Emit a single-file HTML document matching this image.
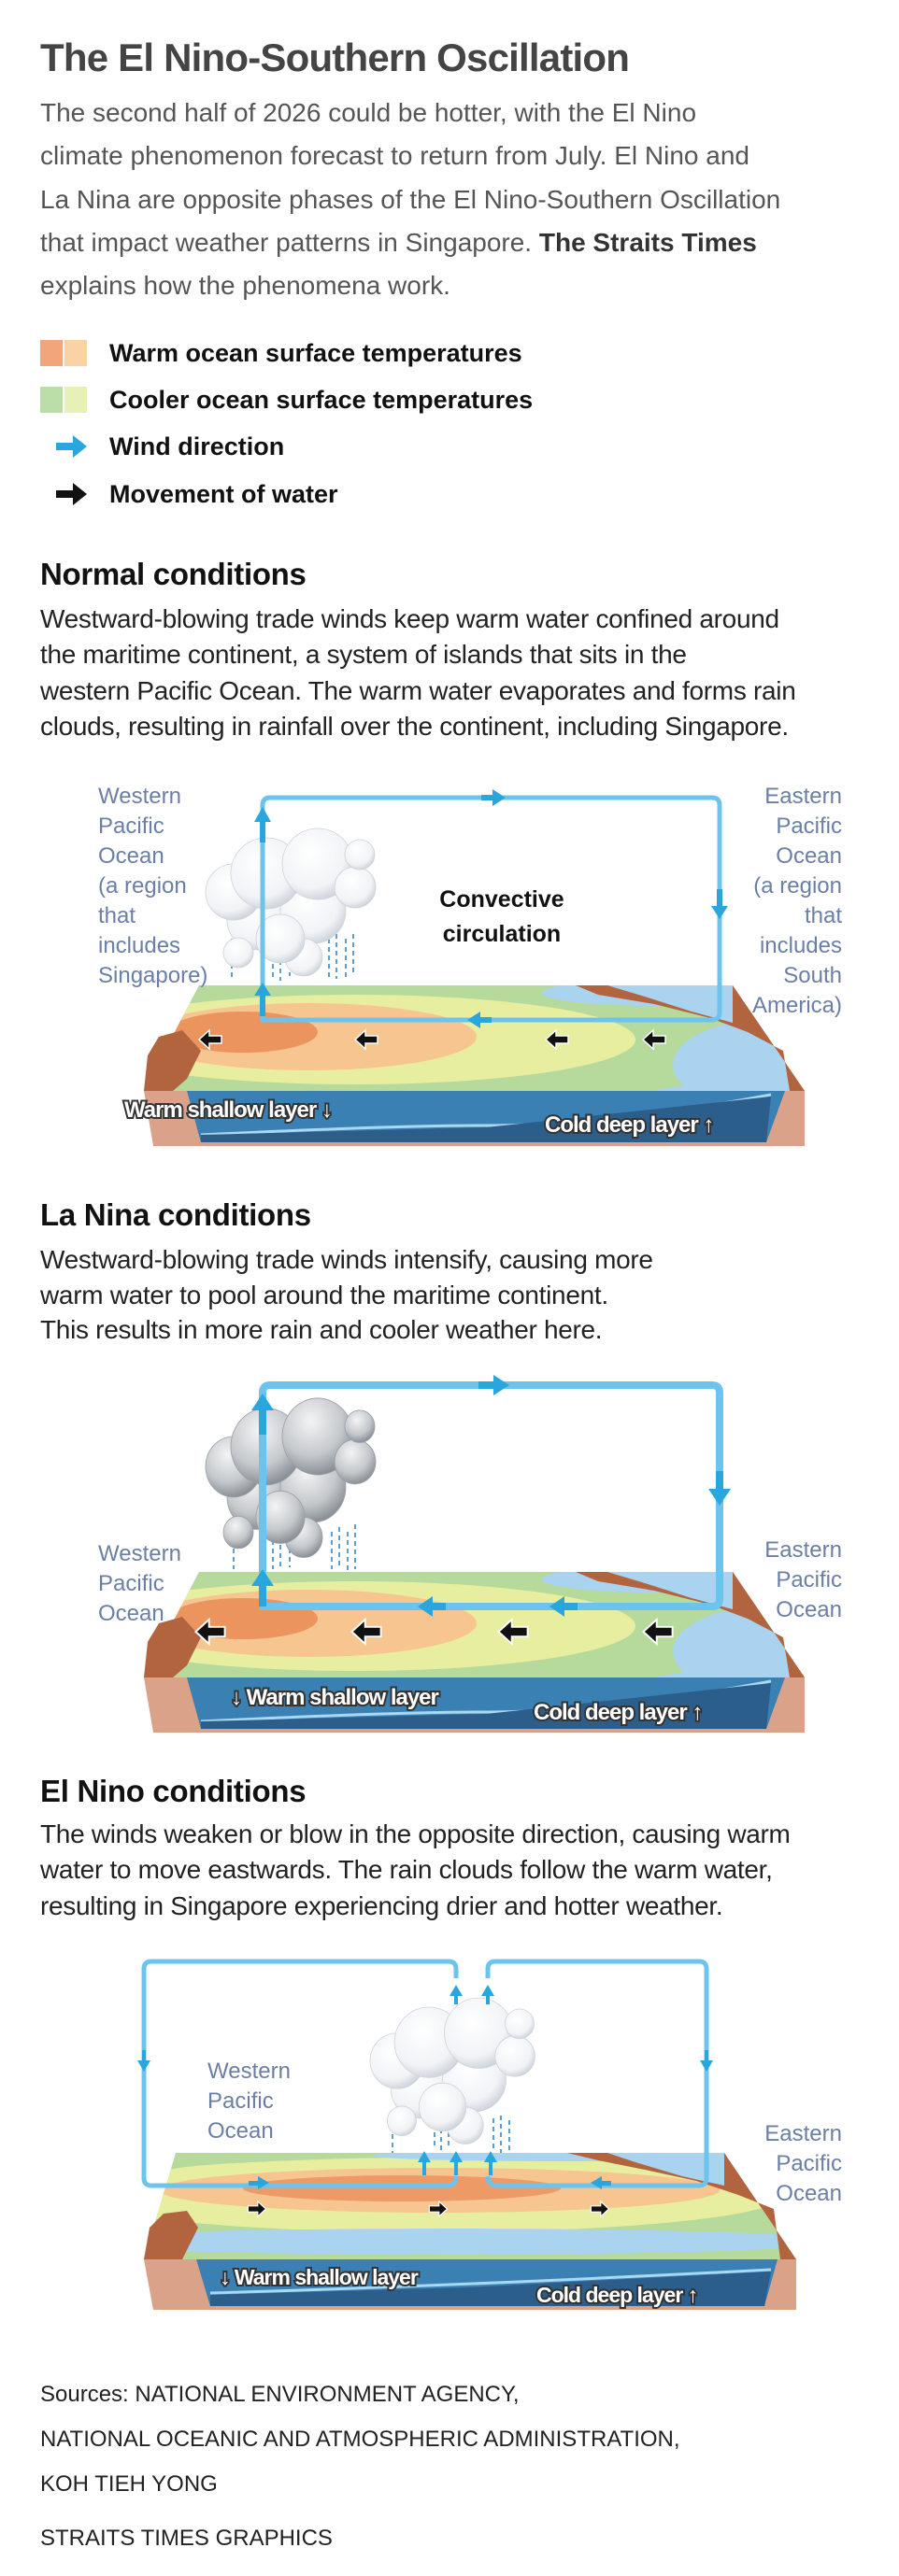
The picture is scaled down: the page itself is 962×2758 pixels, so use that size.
<!DOCTYPE html>
<html><head><meta charset="utf-8">
<style>
html,body{margin:0;padding:0;background:#fff;}
body{width:962px;height:2758px;position:relative;overflow:hidden;font-family:"Liberation Sans",sans-serif;}
.t{position:absolute;left:43px;white-space:nowrap;}
.title{top:37px;font-size:42px;line-height:50px;font-weight:bold;color:#444;letter-spacing:-0.8px;}
.intro{top:98px;font-size:28px;line-height:46.3px;color:#555;}
.leg{font-size:27px;line-height:40px;font-weight:bold;color:#111;left:117px;}
.h2{font-size:33px;line-height:44px;font-weight:bold;color:#111;letter-spacing:-0.3px;}
.body{font-size:28px;line-height:38.3px;color:#222;letter-spacing:-0.3px;}
.lbl{position:absolute;font-size:24px;line-height:32px;color:#6b7fa6;white-space:nowrap;}
.src{font-size:24px;line-height:48px;color:#222;}
svg{position:absolute;left:0;top:0;}
</style></head><body>
<svg width="962" height="2758" viewBox="0 0 962 2758">
<defs>
<radialGradient id="cw" cx="0.4" cy="0.35" r="0.7"><stop offset="0" stop-color="#ffffff"/><stop offset="0.7" stop-color="#f1f3f6"/><stop offset="1" stop-color="#c9cfd7"/></radialGradient>
<radialGradient id="cg" cx="0.4" cy="0.3" r="0.75"><stop offset="0" stop-color="#f4f4f4"/><stop offset="0.6" stop-color="#c4c8cc"/><stop offset="1" stop-color="#80868d"/></radialGradient>
<clipPath id="topN"><polygon points="213,0 784,0 861,113 154,113"/></clipPath>
<clipPath id="topE"><polygon points="188,0 775,0 852,114 154,114"/></clipPath>
<g id="oceanN">
 <g clip-path="url(#topN)">
  <rect x="150" y="0" width="720" height="120" fill="#a9d3ee"/>
  <ellipse cx="430" cy="55" rx="420" ry="75" fill="#b6d99c"/>
  <ellipse cx="380" cy="58" rx="300" ry="48" fill="#e8ee9f"/>
  <ellipse cx="330" cy="55" rx="180" ry="36" fill="#f7c590"/>
  <ellipse cx="260" cy="50" rx="80" ry="22" fill="#ec945d"/>
  <ellipse cx="830" cy="85" rx="110" ry="50" fill="#a9d3ee"/>
  <ellipse cx="700" cy="8" rx="120" ry="14" fill="#a9d3ee"/>
 </g>
 <polygon points="154,113 158,75 170,55 195,48 215,70 200,100 185,113" fill="#b2643f"/>
 <polygon points="616,0 784,0 861,113 845,113 838,70 800,50 760,35 700,20 640,10" fill="#b2643f"/>
 <polygon points="650,0 784,0 784,40 740,28 690,12" fill="#a9d3ee"/>
 <polygon points="154,113 861,113 861,172 164,172" fill="#dba28a"/>
 <polygon points="200,113 840,113 820,168 215,168" fill="#3a80b2"/>
 <path d="M215,160 Q420,150 520,150 Q650,150 825,117" stroke="#a8d8f2" stroke-width="3" fill="none"/>
 <polygon points="215,160 520,152 825,119 820,168 215,168" fill="#2b5e8a"/>
</g>
<path id="bl" d="M-12,0 L-1,-10 L-1,-4 L12,-4 L12,4 L-1,4 L-1,10 Z" fill="#111" stroke="#fff" stroke-width="1.5"/>
<g id="cloudN">
 <circle cx="275" cy="985" r="32"/><circle cx="335" cy="975" r="35"/><circle cx="255" cy="1020" r="16"/>
 <circle cx="325" cy="1025" r="20"/><circle cx="300" cy="1005" r="26"/>
 <circle cx="250" cy="955" r="30"/><circle cx="285" cy="935" r="38"/><circle cx="340" cy="925" r="38"/>
 <circle cx="380" cy="950" r="22"/><circle cx="385" cy="915" r="16"/>
</g>
</defs>

<!-- legend -->
<rect x="43" y="364" width="24" height="28" fill="#f2a57a"/><rect x="69" y="364" width="24" height="28" fill="#f9d3a5"/>
<rect x="43" y="414" width="24" height="28" fill="#b9dea8"/><rect x="69" y="414" width="24" height="28" fill="#e6f0b7"/>
<path d="M60,474 H78 V466 L93,478 L78,490 V482 H60 Z" fill="#2aa6df"/>
<path d="M60,525 H78 V517 L93,529 L78,541 V533 H60 Z" fill="#111"/>

<!-- NORMAL -->
<use href="#oceanN" transform="translate(0,1055)"/>
<g fill="none" stroke="#2a7fc0" stroke-width="1.5" stroke-dasharray="5,4">
 <path d="M248,1005 V1050 M292,1005 V1048 M300,1010 V1050 M310,1005 V1045 M352,1005 V1050 M360,1000 V1048 M370,1005 V1050 M378,1000 V1045"/>
</g>
<use href="#cloudN" fill="url(#cw)" stroke="#cdd3da" stroke-width="0.8"/>
<path d="M281,1092 V862 Q281,854 289,854 H762 Q770,854 770,862 V1084 Q770,1092 762,1092 Z" fill="none" stroke="#6cc4ee" stroke-width="5"/>
<g fill="#2aa6df">
 <polygon points="281,864 272,880 290,880"/><rect x="278" y="880" width="6" height="22"/>
 <polygon points="541,854 527,845 527,863"/><rect x="515" y="851" width="12" height="6"/>
 <polygon points="770,984 761,970 779,970"/><rect x="767" y="952" width="6" height="18"/>
 <polygon points="500,1092 514,1083 514,1101"/><rect x="514" y="1089" width="12" height="6"/>
 <polygon points="281,1052 272,1066 290,1066"/><rect x="278" y="1066" width="6" height="22"/>
</g>
<use href="#bl" x="225" y="1113"/><use href="#bl" x="392" y="1113"/><use href="#bl" x="596" y="1113"/><use href="#bl" x="700" y="1113"/>
<g font-family="Liberation Sans" font-weight="bold" font-size="24" fill="#fff" stroke="#333" stroke-width="4" paint-order="stroke" letter-spacing="-1">
 <text x="133" y="1196">Warm shallow layer ↓</text>
 <text x="583" y="1212">Cold deep layer ↑</text>
</g>
<g font-family="Liberation Sans" font-weight="bold" font-size="25" fill="#111" text-anchor="middle">
 <text x="537" y="971">Convective</text><text x="537" y="1008">circulation</text>
</g>

<!-- LA NINA -->
<use href="#oceanN" transform="translate(0,1683)"/>
<g fill="none" stroke="#2a7fc0" stroke-width="1.5" stroke-dasharray="5,4">
 <path d="M250,1640 V1680 M292,1640 V1680 M300,1645 V1680 M310,1640 V1678 M355,1640 V1680 M363,1635 V1680 M372,1640 V1682 M380,1632 V1680"/>
</g>
<use href="#cloudN" transform="translate(0,620) scale(1,1.08) translate(0,-75)" fill="url(#cg)" stroke="#9aa0a8" stroke-width="0.8"/>
<path d="M281,1720 V1491 Q281,1483 289,1483 H762 Q770,1483 770,1491 V1712 Q770,1720 762,1720 Z" fill="none" stroke="#6cc4ee" stroke-width="8"/>
<g fill="#2aa6df">
 <polygon points="281,1492 269,1510 293,1510"/><rect x="277" y="1510" width="8" height="26"/>
 <polygon points="545,1483 528,1472 528,1494"/><rect x="512" y="1479" width="16" height="8"/>
 <polygon points="770,1612 758,1594 782,1594"/><rect x="766" y="1575" width="8" height="19"/>
 <polygon points="447,1720 463,1709 463,1731"/><rect x="463" y="1716" width="14" height="8"/>
 <polygon points="588,1720 604,1709 604,1731"/><rect x="604" y="1716" width="14" height="8"/>
 <polygon points="281,1680 269,1698 293,1698"/><rect x="277" y="1698" width="8" height="22"/>
</g>
<use href="#bl" transform="translate(225,1747) scale(1.3)"/><use href="#bl" transform="translate(392,1747) scale(1.3)"/><use href="#bl" transform="translate(549,1747) scale(1.3)"/><use href="#bl" transform="translate(704,1747) scale(1.3)"/>
<g font-family="Liberation Sans" font-weight="bold" font-size="24" fill="#fff" stroke="#333" stroke-width="4" paint-order="stroke" letter-spacing="-1">
 <text x="247" y="1825">↓ Warm shallow layer</text>
 <text x="571" y="1841">Cold deep layer ↑</text>
</g>

<!-- EL NINO -->
<g transform="translate(0,2305)">
 <g clip-path="url(#topE)">
  <rect x="150" y="0" width="720" height="120" fill="#b6d99c"/>
  <ellipse cx="480" cy="20" rx="300" ry="14" fill="#e8ee9f"/>
  <ellipse cx="460" cy="45" rx="380" ry="40" fill="#e8ee9f"/>
  <ellipse cx="470" cy="40" rx="300" ry="24" fill="#f7c590"/>
  <ellipse cx="430" cy="38" rx="170" ry="14" fill="#ee9a66"/>
  <ellipse cx="480" cy="95" rx="420" ry="14" fill="#a9d3ee"/>
  <ellipse cx="600" cy="3" rx="200" ry="6" fill="#a9d3ee"/>
 </g>
 <polygon points="154,114 160,80 175,65 200,62 212,80 195,114" fill="#b2643f"/>
 <polygon points="607,0 775,0 852,114 835,114 828,60 790,45 745,30 690,18 640,8" fill="#b2643f"/>
 <polygon points="650,0 775,0 775,35 730,25 680,10" fill="#a9d3ee"/>
 <polygon points="154,114 852,114 852,168 164,168" fill="#dba28a"/>
 <polygon points="210,114 832,114 818,164 225,164" fill="#3a80b2"/>
 <path d="M225,150 Q500,142 825,125" stroke="#a8d8f2" stroke-width="3" fill="none"/>
 <polygon points="225,152 500,144 825,127 818,164 225,164" fill="#2b5e8a"/>
</g>
<g fill="none" stroke="#2a7fc0" stroke-width="1.5" stroke-dasharray="5,4">
 <path d="M420,2285 V2305 M465,2265 V2300 M472,2270 V2305 M480,2265 V2300 M528,2268 V2300 M536,2265 V2305 M545,2270 V2305"/>
</g>
<use href="#cloudN" transform="translate(395,2149) scale(0.97,0.99) translate(-219,-897)" fill="url(#cw)" stroke="#cdd3da" stroke-width="0.8"/>
<g fill="none" stroke="#6cc4ee" stroke-width="5">
 <path d="M488,2330 Q488,2340 478,2340 H162 Q154,2340 154,2332 V2108 Q154,2100 162,2100 H480 Q488,2100 488,2108 V2118"/>
 <path d="M522,2330 Q522,2340 532,2340 H748 Q756,2340 756,2332 V2108 Q756,2100 748,2100 H530 Q522,2100 522,2108 V2118"/>
</g>
<g fill="#2aa6df">
 <polygon points="488,2125 481,2137 495,2137"/><rect x="486" y="2137" width="4" height="9"/>
 <polygon points="522,2125 515,2137 529,2137"/><rect x="520" y="2137" width="4" height="9"/>
 <polygon points="154,2218 147,2206 161,2206"/><rect x="152" y="2195" width="4" height="11"/>
 <polygon points="756,2218 749,2206 763,2206"/><rect x="754" y="2195" width="4" height="11"/>
 <polygon points="288,2337 276,2330 276,2344"/><rect x="266" y="2335" width="10" height="5"/>
 <polygon points="632,2337 644,2330 644,2344"/><rect x="644" y="2335" width="10" height="5"/>
 <polygon points="454,2303 447,2315 461,2315"/><rect x="452" y="2315" width="4" height="14"/>
 <polygon points="488,2303 481,2315 495,2315"/><rect x="486" y="2315" width="4" height="14"/>
 <polygon points="525,2303 518,2315 532,2315"/><rect x="523" y="2315" width="4" height="14"/>
</g>
<use href="#bl" transform="translate(275,2365) scale(-0.8,0.8)"/><use href="#bl" transform="translate(469,2365) scale(-0.8,0.8)"/><use href="#bl" transform="translate(642,2365) scale(-0.8,0.8)"/>
<g font-family="Liberation Sans" font-weight="bold" font-size="23" fill="#fff" stroke="#333" stroke-width="4" paint-order="stroke" letter-spacing="-1">
 <text x="235" y="2446">↓ Warm shallow layer</text>
 <text x="574" y="2465">Cold deep layer ↑</text>
</g>
</svg>

<div class="t title">The El Nino-Southern Oscillation</div>
<div class="t intro">The second half of 2026 could be hotter, with the El Nino<br>climate phenomenon forecast to return from July. El Nino and<br>La Nina are opposite phases of the El Nino-Southern Oscillation<br>that impact weather patterns in Singapore. <b style="color:#333">The Straits Times</b><br>explains how the phenomena work.</div>
<div class="t leg" style="top:358px">Warm ocean surface temperatures</div>
<div class="t leg" style="top:408px">Cooler ocean surface temperatures</div>
<div class="t leg" style="top:458px">Wind direction</div>
<div class="t leg" style="top:509px">Movement of water</div>

<div class="t h2" style="top:593px">Normal conditions</div>
<div class="t body" style="top:644px">Westward-blowing trade winds keep warm water confined around<br>the maritime continent, a system of islands that sits in the<br>western Pacific Ocean. The warm water evaporates and forms rain<br>clouds, resulting in rainfall over the continent, including Singapore.</div>
<div class="lbl" style="left:105px;top:837px">Western<br>Pacific<br>Ocean<br>(a region<br>that<br>includes<br>Singapore)</div>
<div class="lbl" style="right:61px;top:837px;text-align:right">Eastern<br>Pacific<br>Ocean<br>(a region<br>that<br>includes<br>South<br>America)</div>

<div class="t h2" style="top:1279px">La Nina conditions</div>
<div class="t body" style="top:1330px;line-height:37.5px">Westward-blowing trade winds intensify, causing more<br>warm water to pool around the maritime continent.<br>This results in more rain and cooler weather here.</div>
<div class="lbl" style="left:105px;top:1648px">Western<br>Pacific<br>Ocean</div>
<div class="lbl" style="right:61px;top:1644px;text-align:right">Eastern<br>Pacific<br>Ocean</div>

<div class="t h2" style="top:1896px">El Nino conditions</div>
<div class="t body" style="top:1945px">The winds weaken or blow in the opposite direction, causing warm<br>water to move eastwards. The rain clouds follow the warm water,<br>resulting in Singapore experiencing drier and hotter weather.</div>
<div class="lbl" style="left:222px;top:2202px">Western<br>Pacific<br>Ocean</div>
<div class="lbl" style="right:61px;top:2269px;text-align:right">Eastern<br>Pacific<br>Ocean</div>

<div class="t src" style="top:2540px">Sources: NATIONAL ENVIRONMENT AGENCY,<br>NATIONAL OCEANIC AND ATMOSPHERIC ADMINISTRATION,<br>KOH TIEH YONG</div>
<div class="t src" style="top:2694px">STRAITS TIMES GRAPHICS</div>
</body></html>
